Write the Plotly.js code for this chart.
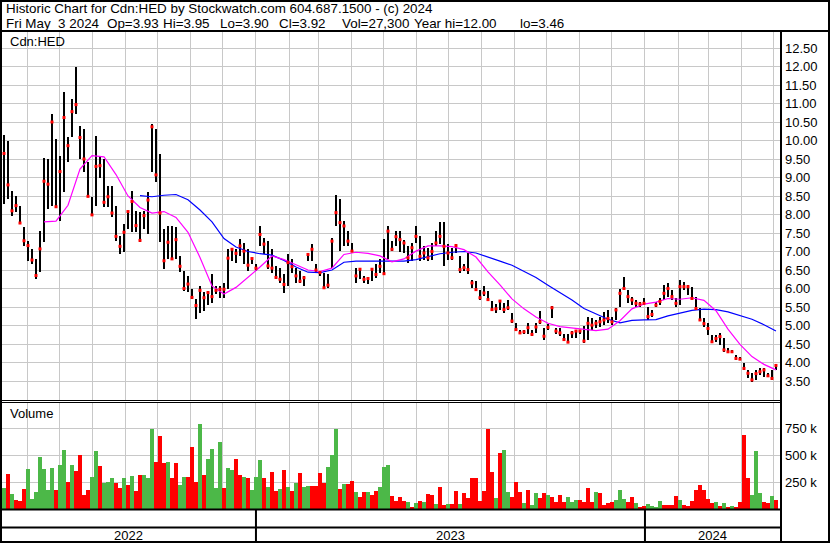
<!DOCTYPE html>
<html><head><meta charset="utf-8">
<script src="https://cdn.plot.ly/plotly-3.0.1.min.js"></script>
<style>html,body{margin:0;padding:0;background:#fff;}#chart{width:830px;height:543px;}</style>
</head><body><div id="chart"></div>
<script>
// ---- data (one sample every ~3.75 calendar days) ----
const priceHigh = [
10.15,9.99,8.64,8.51,8.24,7.65,7.29,7.07,6.80,7.56,
9.54,9.50,10.72,10.04,9.59,11.30,10.09,11.12,12.00,10.40,
10.31,9.41,8.46,10.13,9.59,9.50,8.78,8.78,8.24,7.43,
7.74,8.10,8.64,8.10,8.06,8.10,8.60,10.45,10.31,9.63,
7.61,7.70,7.70,7.65,6.89,6.48,6.35,5.99,5.72,6.07,
5.90,5.92,6.38,6.07,6.07,6.16,7.06,7.10,7.06,7.33,
7.24,7.06,6.81,6.65,7.69,7.37,7.28,7.06,6.61,6.56,
6.38,6.92,6.79,6.56,6.47,6.34,6.97,7.20,6.65,6.47,
6.43,6.38,7.37,8.52,8.41,7.82,7.55,7.24,6.56,6.56,
6.34,6.29,6.56,6.65,6.79,7.33,7.69,7.28,7.55,7.55,
7.32,7.14,7.23,7.68,7.41,7.14,7.10,7.23,7.55,7.79,
7.79,7.19,7.10,7.19,6.87,6.65,6.96,6.24,6.20,5.97,
6.06,5.93,5.66,5.57,5.70,5.61,5.70,5.34,5.07,4.89,
4.89,5.07,4.89,5.07,5.40,4.94,5.03,5.52,4.94,4.94,
4.76,4.76,4.85,4.85,4.89,4.98,5.24,5.19,5.15,5.24,
5.37,5.42,5.24,5.46,6.00,6.30,5.96,5.78,5.69,5.64,
5.73,5.51,5.42,5.64,5.73,6.10,6.14,5.96,5.73,6.23,
6.18,6.10,6.05,5.78,5.46,5.19,5.06,4.74,4.74,4.79,
4.65,4.38,4.34,4.20,4.16,3.98,3.80,3.71,3.80,3.84,
3.84,3.71,3.80,3.95];
const priceLow = [
8.28,8.42,7.97,8.06,7.74,7.16,6.75,6.66,6.26,6.44,
7.25,8.15,8.24,8.19,7.83,8.60,9.41,10.09,10.72,9.50,
9.14,8.49,7.97,8.24,9.00,8.20,8.19,7.92,7.29,6.93,
7.00,7.60,7.52,7.52,7.27,7.61,7.47,9.14,8.87,7.25,
6.53,6.80,6.80,6.80,6.44,5.94,5.90,5.72,5.18,5.35,
5.40,5.55,5.60,5.84,5.75,5.75,5.98,6.74,6.70,6.88,
6.65,6.47,6.65,6.47,7.15,6.92,6.52,6.43,6.25,6.16,
5.89,6.07,6.43,6.16,6.16,6.07,6.74,6.74,6.43,6.34,
5.98,6.02,6.56,7.69,7.01,7.15,7.15,6.98,6.16,6.25,
6.16,6.11,6.20,6.29,6.43,6.38,6.79,7.01,7.14,7.00,
6.96,6.69,6.74,7.23,6.74,6.78,6.74,6.78,7.14,7.19,
6.60,6.78,6.78,6.96,6.42,6.47,6.38,6.02,5.93,5.70,
5.79,5.66,5.39,5.34,5.43,5.34,5.43,5.07,4.89,4.76,
4.76,4.76,4.71,4.80,5.03,4.62,4.89,5.21,4.76,4.71,
4.58,4.53,4.67,4.67,4.76,4.53,4.60,4.88,4.92,4.97,
5.01,5.06,5.01,5.15,5.51,5.96,5.60,5.55,5.51,5.51,
5.55,5.15,5.24,5.51,5.55,5.69,5.78,5.69,5.51,5.55,
5.96,5.82,5.69,5.42,5.15,4.97,4.74,4.52,4.56,4.47,
4.29,4.29,4.25,4.07,4.07,3.80,3.57,3.46,3.53,3.66,
3.62,3.62,3.53,3.80];
const priceClose = [
9.65,8.80,8.10,8.24,7.77,7.29,7.16,6.77,6.35,7.07,
8.90,8.82,10.50,8.21,9.16,10.62,9.86,10.78,10.97,10.08,
9.50,8.49,7.99,9.30,9.32,8.33,8.48,8.04,7.41,7.14,
7.52,8.08,8.35,7.70,7.30,7.97,8.39,10.37,9.07,8.04,
6.75,7.25,6.80,7.32,6.60,6.00,6.12,5.76,5.54,5.95,
5.75,5.89,5.78,5.95,5.98,5.98,6.82,7.06,6.95,7.15,
7.01,6.63,6.81,6.55,7.46,7.20,6.61,6.55,6.30,6.25,
6.11,6.70,6.59,6.34,6.20,6.29,6.92,7.06,6.50,6.43,
6.02,6.09,7.28,8.05,7.78,7.69,7.28,7.01,6.34,6.52,
6.25,6.27,6.52,6.38,6.60,6.40,7.55,7.06,7.40,7.32,
7.23,6.83,7.10,7.41,6.87,6.96,6.83,7.00,7.23,7.41,
7.14,6.96,6.83,7.16,6.51,6.56,6.51,6.15,5.97,5.75,
5.88,5.70,5.43,5.45,5.66,5.43,5.48,5.12,4.89,4.80,
4.83,4.94,4.76,4.96,5.10,4.71,4.95,5.48,4.85,4.80,
4.62,4.55,4.80,4.85,4.85,4.58,5.06,5.01,5.06,5.10,
5.15,5.19,5.10,5.42,5.87,6.00,5.78,5.69,5.60,5.58,
5.60,5.24,5.30,5.55,5.65,5.87,6.00,5.78,5.60,6.05,
6.05,6.05,5.73,5.46,5.15,5.05,4.92,4.56,4.65,4.70,
4.34,4.29,4.29,4.11,4.09,3.84,3.71,3.53,3.70,3.75,
3.80,3.64,3.57,3.92];
const volumeK = [
191,324,140,80,75,185,370,90,160,485,
370,175,377,175,407,546,253,407,352,500,
130,176,300,537,398,238,247,290,238,191,
290,222,309,167,315,315,284,747,438,679,
423,438,284,423,222,300,300,577,253,793,
320,469,562,191,623,191,377,361,469,315,
300,284,176,300,454,284,207,346,170,185,
361,207,167,238,330,207,216,216,216,330,
238,392,506,747,185,228,228,259,160,114,
154,160,130,167,207,392,407,123,74,114,
74,62,22,52,74,68,136,130,43,207,
37,49,43,167,43,145,105,284,290,74,
167,747,340,99,516,546,160,114,253,160,
52,176,37,145,99,145,130,114,68,130,
68,114,68,83,80,68,191,68,160,145,
37,52,62,83,173,93,62,114,52,19,
31,43,31,19,74,37,37,37,120,80,
37,31,74,176,222,176,93,52,62,31,
52,22,31,22,68,692,284,130,537,145,
62,52,123,83];
// g = up day (green), r = down day (red)
const volumeDir = ("grgrrrgggg"+"gggrggrgrr"+"rrggrgggrr"+"grgrrgggrr"+"rgrrggrrrg"+
  "rggggrggrr"+"grgggrgrrg"+"rgrgrggrrr"+"rgggrgrrgr"+"rgrrgggrrr"+
  "rgrgrgrrgr"+"rgrrgrrrrr"+"rrrgrggrrr"+"grggrrgrrr"+"rgggrrrrgr"+
  "rrrgggrrgr"+"rggggrrrrg"+"rrrrrrrrgr"+"grgrrrrggg"+"rrgr").split('');
// short moving average (magenta) and long moving average (blue), one value every 3 samples
const maShort = [7.80,7.82,8.25,9.23,9.59,9.56,9.08,8.50,8.19,8.04,8.08,7.92,7.52,6.84,6.07,5.85,6.03,6.30,6.58,6.88,
  6.78,6.64,6.50,6.46,6.55,6.92,6.98,6.95,6.88,6.72,6.80,7.01,7.15,7.15,7.13,7.05,6.85,6.45,6.10,5.72,
  5.45,5.23,5.06,4.97,4.93,4.88,4.86,4.90,5.13,5.45,5.58,5.63,5.73,5.71,5.75,5.68,5.40,4.90,4.49,4.16,3.95,3.80];
const maLong = [8.51,8.48,8.52,8.54,8.40,8.12,7.80,7.35,7.12,7.00,6.94,6.90,6.76,6.58,6.44,6.43,6.50,6.71,6.74,6.74,
  6.74,6.72,6.74,6.78,6.86,6.94,6.98,7.00,6.96,6.86,6.74,6.63,6.46,6.30,6.09,5.89,5.69,5.46,5.32,5.17,
  5.07,5.14,5.15,5.16,5.26,5.34,5.41,5.44,5.43,5.37,5.28,5.17,5.02,4.85];
const maShortFirst = 10, maLongFirst = 34, maEvery = 3;
const priceTicks = [3.5,4,4.5,5,5.5,6,6.5,7,7.5,8,8.5,9,9.5,10,10.5,11,11.5,12,12.5];
const volTicks = [250,500,750];
const volTickLabels = ['250 k','500 k','750 k'];
const yearLabels = ['2022','2023','2024'];
const yearStarts = ['2023-01-01','2024-01-01'];
const headerLine1 = 'Historic Chart for Cdn:HED by Stockwatch.com 604.687.1500 - (c) 2024';
const headerLine2Parts = ['Fri May  3 2024', 'Op=3.93', 'Hi=3.95', 'Lo=3.90', 'Cl=3.92', 'Vol=27,300', 'Year hi=12.00', 'lo=3.46'];

// ---- build ----
const DAY = 86400000;
const rangeStart = Date.UTC(2022,4,7,17), rangeEnd = Date.UTC(2024,4,6,17);
const firstSample = Date.UTC(2022,4,9,14), sampleStep = 3.753*DAY;
const fmt = ms => new Date(ms).toISOString().slice(0,19).replace('T',' ');
const dates = priceClose.map((_,i)=>fmt(firstSample + i*sampleStep));
const maShortDates = maShort.map((_,i)=>dates[maShortFirst + i*maEvery]);
const maLongDates = maLong.map((_,i)=>dates[maLongFirst + i*maEvery]);
const pxPerDay = 778/((rangeEnd-rangeStart)/DAY);
const GREEN = '#4cb848', RED = '#ff0000', GRID = '#c8c8c8';

const traces = [
  {type:'bar', x:dates, y:priceHigh.map((h,i)=>h-priceLow[i]), base:priceLow, xaxis:'x', yaxis:'y',
   width:2.8/pxPerDay*DAY, marker:{color:'#000', line:{width:0}}, hoverinfo:'skip'},
  {type:'scatter', mode:'lines', x:maLongDates, y:maLong, xaxis:'x', yaxis:'y', line:{color:'#0000ff', width:1.2}, hoverinfo:'skip'},
  {type:'scatter', mode:'lines', x:maShortDates, y:maShort, xaxis:'x', yaxis:'y', line:{color:'#ff00ff', width:1.2}, hoverinfo:'skip'},
  {type:'scatter', mode:'markers', x:dates, y:priceClose, xaxis:'x', yaxis:'y',
   marker:{symbol:'square', size:3, color:RED, line:{width:0}}, hoverinfo:'skip'},
  {type:'bar', x:dates, y:volumeK, xaxis:'x', yaxis:'y2', width:3.5/pxPerDay*DAY,
   marker:{color:volumeDir.map(d=>d==='g'?GREEN:RED), line:{width:0}}, hoverinfo:'skip'}
];

const PL=2, PT=31, PW=778, PH=478;
const px = x => (x-PL)/PW, py = y => (PT+PH-y)/PH;
const hline = (y,x0,x1,w) => ({type:'line', xref:'paper', yref:'paper', x0:px(x0), x1:px(x1), y0:py(y), y1:py(y), line:{color:'#000', width:w}});
const shapes = [
  {type:'rect', xref:'paper', yref:'paper', x0:px(1), x1:px(829), y0:py(542), y1:py(1), line:{color:'#000', width:2}},
  hline(31,0,830,2),
  {type:'line', xref:'paper', yref:'paper', x0:px(781), x1:px(781), y0:py(31), y1:py(543), line:{color:'#000', width:2}},
  hline(400.5,0,781,1), hline(402.5,0,781,1),
  hline(509.5,0,781,2), hline(527.5,0,781,2)
];
yearStarts.forEach(d=>shapes.push({type:'line', xref:'x', yref:'paper', x0:d, x1:d, y0:py(510), y1:py(542), line:{color:'#000', width:2}}));

const bounds = [rangeStart, Date.parse(yearStarts[0]+'T00:00:00Z'), Date.parse(yearStarts[1]+'T00:00:00Z'), rangeEnd];
const nb = s => s.replace(/ /g,'\u00a0');
const headFont = {size:13.4};
const head = (t,x,y) => ({xref:'paper', yref:'paper', x:px(x), y:py(y), xanchor:'left', yanchor:'middle', text:nb(t), showarrow:false, font:headFont, borderpad:0});
const line2X = [5, 106, 162, 219, 278, 341, 413, 519];
const annotations = [
  head(headerLine1, 5, 8.5),
  ...headerLine2Parts.map((t,i)=>head(t, line2X[i], 23.5)),
  {xref:'paper', yref:'paper', x:px(8), y:py(42), xanchor:'left', yanchor:'middle', text:'Cdn:HED', showarrow:false},
  {xref:'paper', yref:'paper', x:px(8), y:py(413), xanchor:'left', yanchor:'middle', text:'Volume', showarrow:false}
];
yearLabels.forEach((t,i)=>annotations.push({xref:'x', yref:'paper', x:fmt((bounds[i]+bounds[i+1])/2), y:py(535), xanchor:'center', yanchor:'middle', text:t, showarrow:false}));

const layout = {
  width:830, height:543,
  margin:{l:PL, r:50, t:PT, b:34, pad:0},
  paper_bgcolor:'#fff', plot_bgcolor:'#fff',
  font:{family:'"Liberation Sans", Arial, sans-serif', size:13, color:'#000'},
  showlegend:false, barmode:'overlay', bargap:0,
  xaxis:{type:'date', range:[fmt(rangeStart), fmt(rangeEnd)], anchor:'y2', showticklabels:false, ticks:'',
         showgrid:true, gridcolor:GRID, gridwidth:1, dtick:'M1', tick0:'2022-06-01', zeroline:false, showline:false},
  yaxis:{domain:[py(400),1], range:[12.5-(400-48)/37, 12.5+(48-31)/37], side:'right', tickvals:priceTicks, tickformat:'.2f',
         showgrid:true, gridcolor:GRID, gridwidth:1, zeroline:false, ticks:'', showline:false, ticklabelstandoff:4},
  yaxis2:{domain:[0,py(403)], range:[0,985], side:'right', tickvals:volTicks, ticktext:volTickLabels,
          showgrid:true, gridcolor:GRID, gridwidth:1, zeroline:false, ticks:'', showline:false, ticklabelstandoff:4},
  shapes:shapes, annotations:annotations
};
Plotly.newPlot('chart', traces, layout, {staticPlot:true, displayModeBar:false});
</script></body></html>
